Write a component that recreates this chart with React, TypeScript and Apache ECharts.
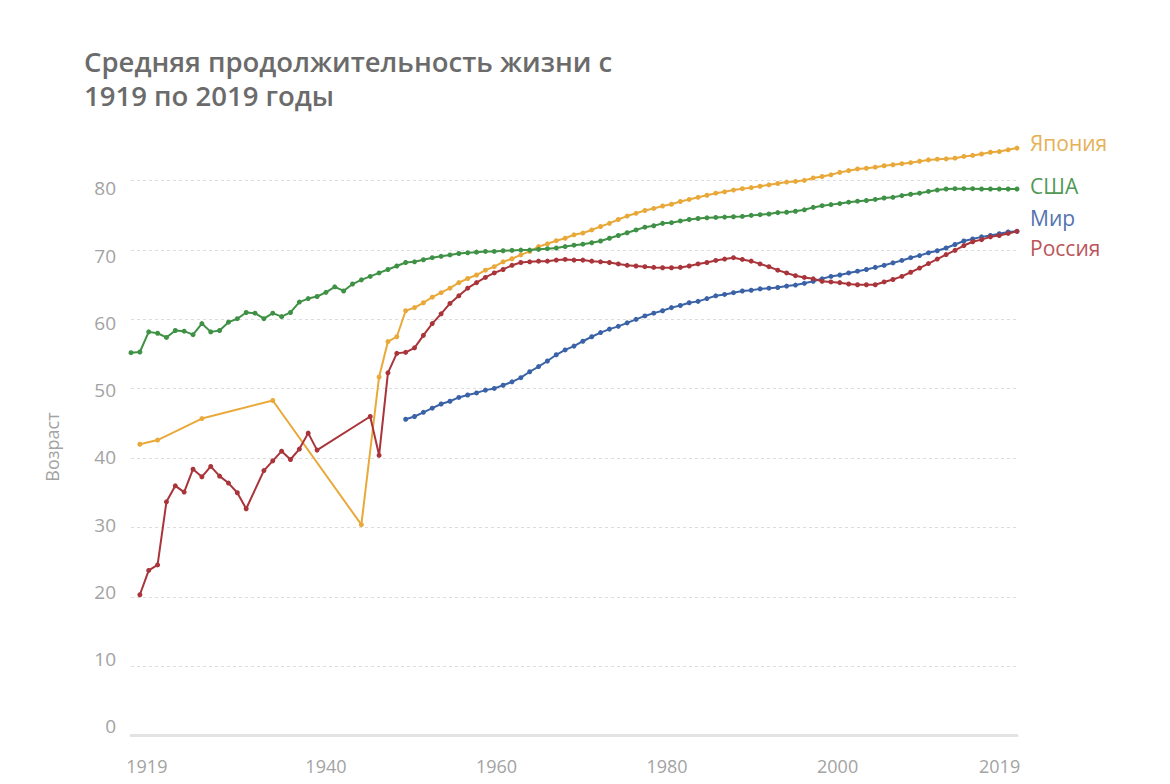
import React, { useEffect, useRef } from "react";
import * as echarts from "echarts";

const span = (a: number, b: number) => Array.from({ length: b - a + 1 }, (_, i) => a + i);

// Years (x values) of each series
const japanYears = [1920, 1922, 1927, 1935, 1945, ...span(1947, 2019)];
const usaYears = span(1919, 2019);
const worldYears = span(1950, 2019);
const russiaYears = [...span(1920, 1932), ...span(1934, 1940), ...span(1946, 2019)];

// Life expectancy values
const japanValues = [
  42.0, 42.6, 45.7, 48.3, 30.4,
  51.7, 56.8, 57.5,
  61.25, 61.7, 62.4, 63.2, 63.85, 64.5, 65.3, 65.9, 66.4, 67.1,
  67.6, 68.3, 68.75, 69.3, 69.8, 70.5, 70.9, 71.35, 71.7, 72.2,
  72.45, 72.9, 73.4, 73.85, 74.4, 74.9, 75.3, 75.7, 76.0, 76.35,
  76.6, 77.0, 77.3, 77.6, 77.9, 78.2, 78.4, 78.65, 78.85, 79.0,
  79.2, 79.4, 79.6, 79.8, 79.9, 80.05, 80.4, 80.6, 80.85, 81.2,
  81.45, 81.7, 81.8, 81.95, 82.15, 82.3, 82.45, 82.6, 82.8, 83.0,
  83.1, 83.15, 83.25, 83.5, 83.65, 83.85, 84.1, 84.2, 84.45, 84.7,
];

const usaValues = [
  55.2,
  55.3, 58.2, 58.0, 57.4, 58.4, 58.3, 57.8, 59.4, 58.2, 58.4,
  59.6, 60.1, 61.0, 60.9, 60.1, 60.9, 60.4, 61.0, 62.5, 63.0,
  63.3, 63.9, 64.7, 64.1, 65.1, 65.7, 66.2, 66.7, 67.2, 67.7,
  68.2, 68.3, 68.6, 68.9, 69.1, 69.3, 69.5, 69.6, 69.7, 69.8,
  69.8, 69.9, 69.95, 70.0, 70.0, 70.1, 70.2, 70.3, 70.5, 70.7,
  70.85, 71.05, 71.3, 71.7, 72.1, 72.5, 72.9, 73.3, 73.5, 73.85,
  73.95, 74.2, 74.4, 74.55, 74.65, 74.7, 74.75, 74.8, 74.85, 75.0,
  75.1, 75.2, 75.4, 75.45, 75.6, 75.8, 76.15, 76.4, 76.55, 76.7,
  76.9, 77.05, 77.15, 77.3, 77.5, 77.6, 77.85, 78.05, 78.2, 78.45,
  78.65, 78.8, 78.85, 78.85, 78.85, 78.8, 78.8, 78.8, 78.8, 78.8,
];

const worldValues = [
  45.6, 46.0, 46.6, 47.2, 47.8, 48.2, 48.75, 49.1, 49.4, 49.8,
  50.05, 50.5, 51.0, 51.6, 52.45, 53.2, 54.0, 54.9, 55.6, 56.15,
  56.85, 57.5, 58.1, 58.6, 59.0, 59.5, 60.0, 60.5, 60.9, 61.25,
  61.7, 62.0, 62.4, 62.6, 63.0, 63.4, 63.6, 63.85, 64.1, 64.2,
  64.4, 64.5, 64.6, 64.8, 64.95, 65.2, 65.5, 65.85, 66.2, 66.4,
  66.7, 66.95, 67.2, 67.5, 67.8, 68.15, 68.5, 68.9, 69.2, 69.6,
  69.9, 70.3, 70.8, 71.3, 71.6, 71.9, 72.1, 72.35, 72.6, 72.7,
];

const russiaValues = [
  20.3, 23.8, 24.6, 33.7, 36.0, 35.1, 38.4, 37.3, 38.8, 37.4, 36.4, 35.0, 32.7,
  38.2, 39.6, 41.0, 39.8, 41.3, 43.6, 41.15,
  46.0, 40.4, 52.3, 55.1,
  55.25, 55.9, 57.7, 59.4, 60.8, 62.3, 63.4, 64.5, 65.3, 66.05,
  66.7, 67.2, 67.8, 68.2, 68.3, 68.4, 68.4, 68.55, 68.65, 68.55,
  68.55, 68.4, 68.3, 68.2, 68.0, 67.8, 67.7, 67.6, 67.5, 67.45,
  67.45, 67.5, 67.7, 68.0, 68.2, 68.5, 68.7, 68.9, 68.65, 68.4,
  68.0, 67.6, 67.1, 66.7, 66.3, 66.05, 65.85, 65.5, 65.4, 65.3,
  65.1, 65.0, 65.0, 65.0, 65.4, 65.75, 66.2, 66.8, 67.4, 68.05,
  68.7, 69.35, 69.95, 70.65, 71.2, 71.5, 71.9, 72.1, 72.4, 72.7,
];

const xTickLabels = [1919, 1940, 1960, 1980, 2000, 2019];
const yTickLabels = [0, 10, 20, 30, 40, 50, 60, 70, 80];

const FONT = '"Open Sans", "Noto Sans", sans-serif';

export default function App() {
  const ref = useRef<HTMLDivElement>(null);

  useEffect(() => {
    const chart = echarts.init(ref.current!, null, { renderer: "svg" });

    const mk = (
      name: string,
      years: number[],
      values: number[],
      color: string,
      labelColor: string,
      dy: number
    ) => ({
      type: "line",
      name,
      xAxisIndex: 0,
      yAxisIndex: 0,
      data: years.map((y, i) => [y, values[i]]),
      symbol: "circle",
      symbolSize: 5,
      showSymbol: true,
      clip: false,
      silent: true,
      itemStyle: { color },
      lineStyle: { color, width: 2 },
      emphasis: { disabled: true },
      endLabel: {
        show: true,
        formatter: name,
        color: labelColor,
        fontSize: 21,
        fontFamily: FONT,
        distance: 13,
        offset: [0, dy],
      },
    });

    chart.setOption({
      animation: false,
      backgroundColor: "#ffffff",
      title: {
        text: "Средняя продолжительность жизни с\n1919 по 2019 годы",
        left: 84,
        top: 44,
        padding: 0,
        textStyle: {
          fontFamily: FONT,
          fontSize: 27.5,
          fontWeight: 600,
          color: "#6b6b6b",
          lineHeight: 34,
        },
      },
      grid: {
        left: 131,
        right: 153,
        top: 180.7,
        bottom: 48.5,
        containLabel: false,
        outerBoundsMode: "none",
      },
      xAxis: [
        {
          type: "value",
          min: 1919,
          max: 2019,
          axisLine: { show: true, onZero: true, lineStyle: { color: "#e3e3e3", width: 3 } },
          axisTick: { show: false },
          axisLabel: { show: false },
          splitLine: { show: false },
        },
        {
          type: "value",
          min: 1917.14,
          max: 2021.04,
          position: "bottom",
          axisLine: { show: false },
          axisTick: { show: false },
          splitLine: { show: false },
          axisLabel: {
            customValues: xTickLabels,
            formatter: (v: number) => String(v),
            margin: 21,
            color: "#a3a3a3",
            fontSize: 18,
            fontFamily: FONT,
          },
        },
      ],
      yAxis: [
        {
          type: "value",
          min: 0,
          max: 80,
          interval: 10,
          axisLine: { show: false },
          axisTick: { show: false },
          axisLabel: { show: false },
          splitLine: { show: true, lineStyle: { color: "#dcdcdc", type: [3, 3], width: 1 } },
        },
        {
          type: "value",
          min: -1.34,
          max: 81.12,
          position: "left",
          axisLine: { show: false },
          axisTick: { show: false },
          splitLine: { show: false },
          axisLabel: {
            customValues: yTickLabels,
            formatter: (v: number) => String(v),
            margin: 15,
            color: "#a3a3a3",
            fontSize: 19,
            fontFamily: FONT,
          },
        },
      ],
      graphic: [
        {
          type: "text",
          x: 52,
          y: 447,
          rotation: Math.PI / 2,
          style: {
            text: "Возраст",
            fill: "#a3a3a3",
            fontSize: 18,
            fontFamily: FONT,
            align: "center",
            verticalAlign: "middle",
          },
        },
      ],
      series: [
        mk("Япония", japanYears, japanValues, "#e9a93a", "#e6b055", -5),
        mk("США", usaYears, usaValues, "#3f9146", "#4f9855", -3),
        mk("Мир", worldYears, worldValues, "#3a62a7", "#5372b0", -13),
        mk("Россия", russiaYears, russiaValues, "#a9343a", "#bb5459", 17),
      ],
    });

    return () => chart.dispose();
  }, []);

  return (
    <div
      ref={ref}
      style={{ position: "absolute", left: 0, top: 0, width: 1170, height: 784 }}
    />
  );
}
